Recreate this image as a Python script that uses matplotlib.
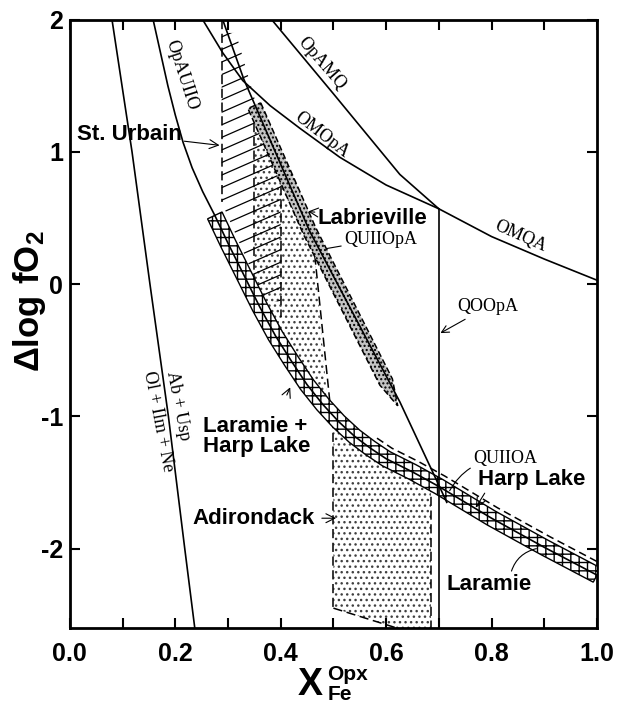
import numpy as np
import matplotlib
matplotlib.use('Agg')
import matplotlib.pyplot as plt
from matplotlib.patches import Polygon

plt.rcParams['font.family'] = ['Liberation Sans', 'DejaVu Sans']
plt.rcParams['mathtext.fontset'] = 'custom'
plt.rcParams['mathtext.rm'] = 'Liberation Sans'
plt.rcParams['mathtext.bf'] = 'Liberation Sans:bold'
plt.rcParams['axes.unicode_minus'] = False
plt.rcParams['hatch.linewidth'] = 1.0

# ---- curvas (X_Fe, delta log fO2) ----
ab_usp_x = [0.080, 0.118, 0.152, 0.187, 0.218, 0.237]
ab_usp_y = [2.0, 1.0, 0.0, -1.0, -2.0, -2.6]

opauiio_x = [0.158, 0.172, 0.186, 0.200, 0.215, 0.232, 0.252, 0.275]
opauiio_y = [2.0, 1.75, 1.5, 1.28, 1.07, 0.88, 0.70, 0.52]

# curva Laramie / Harp Lake (continuação de OpAUIIO)
lar_x = [0.275, 0.30, 0.33, 0.36, 0.39, 0.42, 0.45, 0.48, 0.51, 0.54, 0.57,
         0.60, 0.65, 0.70, 0.80, 0.90, 1.0]
lar_y = [0.52, 0.31, 0.07, -0.17, -0.39, -0.58, -0.76, -0.91, -1.04, -1.15,
         -1.24, -1.32, -1.42, -1.53, -1.77, -1.99, -2.2]

omopa_x = [0.252, 0.29, 0.328, 0.38, 0.436, 0.512, 0.60, 0.70]
omopa_y = [2.0, 1.75, 1.54, 1.35, 1.18, 0.96, 0.75, 0.57]

opamq_x = [0.383, 0.50, 0.626, 0.70]
opamq_y = [2.0, 1.44, 0.83, 0.57]

omqa_x = [0.70, 0.80, 0.90, 1.0]
omqa_y = [0.57, 0.36, 0.19, 0.03]

qoopa_x = [0.70, 0.70]
qoopa_y = [0.57, -2.6]

quiiopa_x = [0.29, 0.33, 0.455, 0.626, 0.70, 0.715]
quiiopa_y = [2.0, 1.55, 0.40, -0.89, -1.52, -1.65]

# faixa Labrieville (sobre QUIIOpA) e ponta da seta
lab_x = [0.35, 0.455, 0.60]
lab_y = [1.35, 0.40, -0.74]
lab_tip = (0.622, -0.92)

# St. Urbain (hachurado)
su_x = [0.288, 0.288, 0.37, 0.40, 0.40, 0.365, 0.315]
su_y = [1.9, 0.62, -0.13, -0.13, 0.75, 1.2, 1.9]

# Adirondack (pontilhado)
ad1_x = [0.35, 0.35, 0.49, 0.462, 0.35]
ad1_y = [1.2, -0.1, -0.95, 0.3, 1.2]
ad2_x = [0.50, 0.50, 0.62, 0.685, 0.685]
ad2_y = [-1.0, -2.45, -2.6, -2.6, -1.5]

# linhas tracejadas (limites)
dash_lines = [
    ([0.288, 0.288], [2.0, 0.62]),
    ([0.35, 0.35], [1.22, -0.05]),
    ([0.40, 0.40], [0.85, -0.25]),
    ([0.462, 0.493], [0.32, -0.88]),
    ([0.50, 0.50], [-1.02, -2.45]),
    ([0.50, 0.62], [-2.45, -2.6]),
    ([0.685, 0.685], [-1.5, -2.6]),
]

SX = 527.0   # px por unidade em x
SY = 132.2   # px por unidade em y


def offset(xs, ys, d):
    """Desloca uma polilinha d pixels na direção normal."""
    px = np.asarray(xs) * SX
    py = np.asarray(ys) * SY
    tx = np.gradient(px)
    ty = np.gradient(py)
    n = np.hypot(tx, ty)
    return (px - d * ty / n) / SX, (py + d * tx / n) / SY


fig = plt.figure(figsize=(6.18, 7.04), dpi=100)
ax = fig.add_axes([0.113, 0.108, 0.853, 0.864])

# Adirondack
for xs, ys in [(ad1_x, ad1_y), (ad2_x, ad2_y)]:
    ax.add_patch(Polygon(np.column_stack([xs, ys]), closed=True, facecolor='white',
                         edgecolor='0.25', hatch='...', linewidth=0, zorder=1))

# St. Urbain - hachura inclinada recortada pelo polígono
su_patch = Polygon(np.column_stack([su_x, su_y]), closed=True, fill=False,
                   linewidth=0, zorder=2)
ax.add_patch(su_patch)
xx = np.array([0.25, 0.45])
for c in np.arange(-0.6, 2.1, 0.095):
    ln, = ax.plot(xx, c + 1.75 * (xx - 0.288), color='black', lw=0.9, zorder=2)
    ln.set_clip_path(su_patch)

for xs, ys in dash_lines:
    ax.plot(xs, ys, color='black', lw=1.1, ls=(0, (6, 3)), zorder=3)

# faixa Laramie + Harp Lake (quadrados)
ux, uy = offset(lar_x, lar_y, 8)
lx, ly = offset(lar_x, lar_y, -8)
ax.add_patch(Polygon(np.column_stack([np.r_[ux, lx[::-1]], np.r_[uy, ly[::-1]]]),
                     closed=True, facecolor='white', edgecolor='black',
                     hatch='++', linewidth=1.0, zorder=4))
# limite tracejado de Harp Lake
hx, hy = offset(lar_x[10:], lar_y[10:], 12)
ax.plot(hx, hy, color='black', lw=1.1, ls=(0, (5, 3)), zorder=4)

# faixa Labrieville com ponta de seta
ux, uy = offset(lab_x, lab_y, 7)
lx, ly = offset(lab_x, lab_y, -7)
ax.add_patch(Polygon(np.column_stack([np.r_[ux, lab_tip[0], lx[::-1]],
                                      np.r_[uy, lab_tip[1], ly[::-1]]]),
                     closed=True, facecolor='#c4c4c4', edgecolor='black',
                     hatch='....', linewidth=1.1, linestyle=(0, (4, 2)), zorder=5))

# curvas de reação
for xs, ys in [(ab_usp_x, ab_usp_y), (opauiio_x, opauiio_y), (lar_x, lar_y),
               (omopa_x, omopa_y), (opamq_x, opamq_y), (omqa_x, omqa_y),
               (qoopa_x, qoopa_y), (quiiopa_x, quiiopa_y)]:
    ax.plot(xs, ys, color='black', lw=1.2, zorder=6)

# rótulos das reações (serifados)
serif = dict(family='Liberation Serif', fontsize=13, ha='center', va='center', zorder=7)
ax.text(0.478, 1.67, 'OpAMQ', rotation=-49, **serif)
ax.text(0.478, 1.13, 'OMOpA', rotation=-38, **serif)
ax.text(0.212, 1.58, 'OpAUIIO', rotation=-72, **serif)
ax.text(0.855, 0.36, 'OMQA', rotation=-24, **serif)
ax.text(0.205, -0.92, 'Ab + Usp', rotation=-79, **serif)
ax.text(0.167, -1.04, 'Ol + Ilm + Ne', rotation=-79, **serif)

ax.annotate('QUIIOpA', xy=(0.488, 0.27), xytext=(0.52, 0.34),
            fontfamily='Liberation Serif', fontsize=13, ha='left', va='center',
            arrowprops=dict(arrowstyle='-', lw=0.8, color='black',
                            shrinkA=0, shrinkB=0), zorder=7)
ax.annotate('QOOpA', xy=(0.703, -0.37), xytext=(0.735, -0.17),
            fontfamily='Liberation Serif', fontsize=13, ha='left', va='center',
            arrowprops=dict(arrowstyle='->', lw=0.8, color='black',
                            shrinkA=2, shrinkB=0), zorder=7)
ax.annotate('QUIIOA', xy=(0.718, -1.58), xytext=(0.765, -1.32),
            fontfamily='Liberation Serif', fontsize=13, ha='left', va='center',
            arrowprops=dict(arrowstyle='-', lw=0.8, color='black', shrinkA=0,
                            connectionstyle='arc3,rad=0.3'), zorder=7)

# rótulos das localidades
bold = dict(fontsize=16, fontweight='bold', va='center', zorder=7)
ax.annotate('St. Urbain', xy=(0.284, 1.05), xytext=(0.013, 1.13), ha='left',
            arrowprops=dict(arrowstyle='->', lw=0.8, color='black',
                            shrinkA=0, shrinkB=0), **bold)
ax.annotate('Labrieville', xy=(0.452, 0.55), xytext=(0.47, 0.5), ha='left',
            arrowprops=dict(arrowstyle='->', lw=0.8, color='black',
                            shrinkA=0, shrinkB=0), **bold)
ax.annotate('Laramie +\nHarp Lake', xy=(0.418, -0.78), xytext=(0.252, -1.15),
            ha='left', linespacing=0.95,
            arrowprops=dict(arrowstyle='->', lw=0.8, color='black',
                            shrinkA=14, shrinkB=0, relpos=(0.7, 1.0)), **bold)
ax.annotate('Adirondack', xy=(0.505, -1.77), xytext=(0.233, -1.77), ha='left',
            arrowprops=dict(arrowstyle='->', lw=0.8, color='black',
                            shrinkA=3, shrinkB=0), **bold)
ax.annotate('Harp Lake', xy=(0.77, -1.69), xytext=(0.774, -1.48), ha='left',
            arrowprops=dict(arrowstyle='->', lw=0.8, color='black',
                            shrinkA=0, shrinkB=0, relpos=(0.08, 0.0)), **bold)
ax.annotate('Laramie', xy=(0.885, -2.0), xytext=(0.715, -2.27), ha='left',
            arrowprops=dict(arrowstyle='-', lw=0.8, color='black',
                            shrinkA=0, shrinkB=0, relpos=(0.75, 1.0),
                            connectionstyle='arc3,rad=-0.3'), **bold)

# eixos
ax.set_xlim(0, 1)
ax.set_ylim(-2.6, 2)
ax.set_xticks(np.arange(0, 1.01, 0.2))
ax.set_xticks(np.arange(0.1, 1.0, 0.2), minor=True)
ax.set_yticks([-2, -1, 0, 1, 2])
ax.set_xticklabels(['0.0', '0.2', '0.4', '0.6', '0.8', '1.0'])
ax.tick_params(which='both', direction='in', top=True, right=True, length=7,
               width=1.5, labelsize=18, pad=10)
ax.tick_params(axis='y', pad=5)
for lab in ax.get_xticklabels() + ax.get_yticklabels():
    lab.set_fontweight('bold')
for sp in ax.spines.values():
    sp.set_linewidth(2)

# rótulos dos eixos
fig.text(0.047, 0.573, r'$\mathbf{\Delta log\ fO_2}$', fontsize=25, rotation=90,
         ha='center', va='center')
fig.text(0.481, 0.013, 'X', fontsize=27, fontweight='bold', va='baseline')
fig.text(0.530, 0.034, 'Opx', fontsize=15, fontweight='bold', va='baseline')
fig.text(0.530, 0.006, 'Fe', fontsize=15, fontweight='bold', va='baseline')

fig.savefig('out.png', dpi=100)
